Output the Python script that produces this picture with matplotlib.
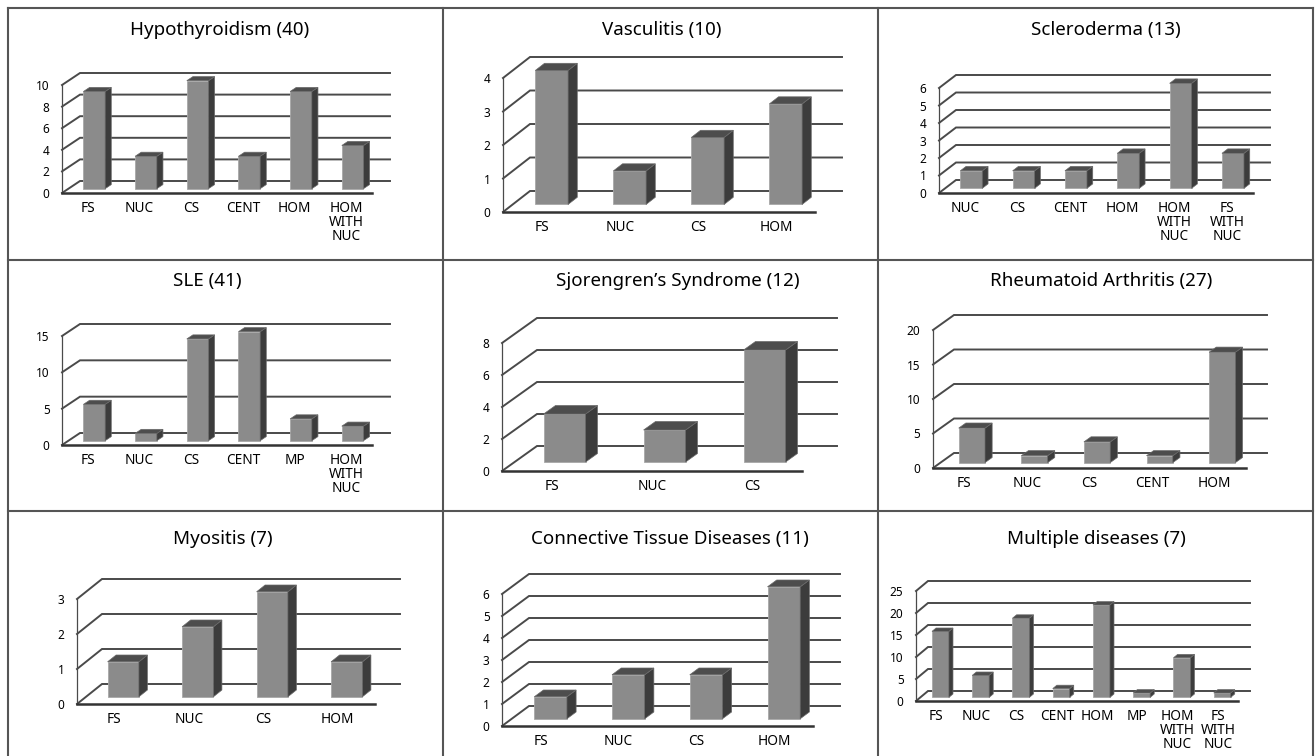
import numpy as np
import matplotlib
matplotlib.use("Agg")
from matplotlib import pyplot as plt
from matplotlib.patches import Polygon

plt.rcParams['font.family'] = ['Noto Sans', 'DejaVu Sans']

# data, one panel per disease
titles = ["Hypothyroidism (40)", "Vasculitis (10)", "Scleroderma (13)",
          "SLE (41)", "Sjorengren\u2019s Syndrome (12)", "Rheumatoid Arthritis (27)",
          "Myositis (7)", "Connective Tissue Diseases (11)", "Multiple diseases (7)"]

hypo_cats = ["FS", "NUC", "CS", "CENT", "HOM", "HOM\nWITH\nNUC"]
hypo_vals = [9, 3, 10, 3, 9, 4]
vasc_cats = ["FS", "NUC", "CS", "HOM"]
vasc_vals = [4, 1, 2, 3]
scler_cats = ["NUC", "CS", "CENT", "HOM", "HOM\nWITH\nNUC", "FS\nWITH\nNUC"]
scler_vals = [1, 1, 1, 2, 6, 2]
sle_cats = ["FS", "NUC", "CS", "CENT", "MP", "HOM\nWITH\nNUC"]
sle_vals = [5, 1, 14, 15, 3, 2]
sjo_cats = ["FS", "NUC", "CS"]
sjo_vals = [3, 2, 7]
ra_cats = ["FS", "NUC", "CS", "CENT", "HOM"]
ra_vals = [5, 1, 3, 1, 16]
myo_cats = ["FS", "NUC", "CS", "HOM"]
myo_vals = [1, 2, 3, 1]
ctd_cats = ["FS", "NUC", "CS", "HOM"]
ctd_vals = [1, 2, 2, 6]
mult_cats = ["FS", "NUC", "CS", "CENT", "HOM", "MP", "HOM\nWITH\nNUC", "FS\nWITH\nNUC"]
mult_vals = [15, 5, 18, 2, 21, 1, 9, 1]

cats = [hypo_cats, vasc_cats, scler_cats, sle_cats, sjo_cats, ra_cats, myo_cats, ctd_cats, mult_cats]
vals = [hypo_vals, vasc_vals, scler_vals, sle_vals, sjo_vals, ra_vals, myo_vals, ctd_vals, mult_vals]
ymaxs = [10, 4, 6, 15, 8, 20, 3, 6, 25]
steps = [2, 1, 1, 5, 2, 5, 1, 1, 5]

# layout in pixels: front x0, front x end, y of zero, y of max, depth dx, depth dy, title x, title y
W, H = 1316, 756
layout = [
    (62, 372, 193, 85, 18, 12, 220, 30),
    (503, 815, 212, 78, 27, 21, 662, 30),
    (939, 1253, 193, 88, 17, 13, 1106, 30),
    (62, 372, 445, 336, 18, 12, 207, 281),
    (502, 802, 471, 343, 35, 25, 678, 281),
    (933, 1246, 468, 330, 21, 15, 1101, 281),
    (77, 375, 704, 599, 25, 20, 223, 539),
    (502, 813, 726, 594, 27, 20, 670, 539),
    (916, 1238, 701, 591, 12, 10, 1096, 539),
]

FRONT = '#8b8b8b'
SIDE = '#3c3c3c'
TOP = '#4d4d4d'
GRID = '#4a4a4a'

fig = plt.figure(figsize=(W / 100, H / 100), dpi=100)

# table borders
def hline(y, x1, x2):
    fig.add_artist(plt.Line2D([x1 / W, x2 / W], [1 - y / H, 1 - y / H], color='#555555', lw=1.5))

def vline(x, y1, y2):
    fig.add_artist(plt.Line2D([x / W, x / W], [1 - y1 / H, 1 - y2 / H], color='#555555', lw=1.5))

hline(8, 8, 1313)
hline(260, 8, 1313)
hline(511, 8, 1313)
for xb in [8, 443, 878, 1313]:
    vline(xb, 8, 756)

for k in range(9):
    x0, x1, y0, yt, dpx, dpy, tx, ty = layout[k]
    c = cats[k]
    v = vals[k]
    n = len(c)
    ymax = ymaxs[k]
    ax = fig.add_axes([x0 / W, 1 - y0 / H, (x1 - x0) / W, (y0 - yt) / H])
    ax.set_xlim(-0.5, n - 0.5)
    ax.set_ylim(0, ymax)
    catw = (x1 - x0) / n
    unit = (y0 - yt) / ymax
    ddx = dpx / catw
    ddy = dpy / unit

    ticks = np.arange(0, ymax + 0.01, steps[k])
    # back wall grid lines with the diagonal on the side wall
    for t in ticks:
        ax.plot([-0.5, -0.5 + ddx, n - 0.5 + ddx], [t, t + ddy, t + ddy],
                color=GRID, lw=1.4, clip_on=False, zorder=1, solid_joinstyle='miter')
    ax.plot([-0.5, -0.5], [0, ymax], color=GRID, lw=0.9, clip_on=False, zorder=1)
    ax.plot([-0.5, n - 0.5], [0, 0], color='#333333', lw=1.8, clip_on=False, zorder=5)

    # bars: front face, side face, top face
    w = 0.42
    f = 0.36
    bd = 0.34
    for i, val in enumerate(v):
        xc = i + f * ddx
        b = f * ddy
        ax.bar(xc, val, width=w, bottom=b, color=FRONT, edgecolor='#a8a8a8', lw=0.6,
               zorder=3, clip_on=False)
        xl = xc - w / 2
        xr = xc + w / 2
        side = [(xr, b), (xr + bd * ddx, b + bd * ddy), (xr + bd * ddx, b + val + bd * ddy), (xr, b + val)]
        top = [(xl, b + val), (xl + bd * ddx, b + val + bd * ddy),
               (xr + bd * ddx, b + val + bd * ddy), (xr, b + val)]
        ax.add_patch(Polygon(side, closed=True, facecolor=SIDE, edgecolor='#6a6a6a', lw=0.5,
                             zorder=3, clip_on=False))
        ax.add_patch(Polygon(top, closed=True, facecolor=TOP, edgecolor='#6a6a6a', lw=0.5,
                             zorder=3, clip_on=False))

    ax.set_yticks(ticks)
    ax.set_yticklabels([str(int(t)) for t in ticks], fontsize=8.5)
    ax.set_xticks(range(n))
    ax.set_xticklabels(c, fontsize=9.8, linespacing=0.88, va='top')
    ax.tick_params(axis='y', length=0, pad=9)
    ax.tick_params(axis='x', length=0, pad=6)
    for s in ax.spines.values():
        s.set_visible(False)
    ax.patch.set_alpha(0)

    fig.text(tx / W, 1 - ty / H, titles[k], ha='center', va='center', fontsize=13.5)

plt.savefig('out.png', dpi=100)
